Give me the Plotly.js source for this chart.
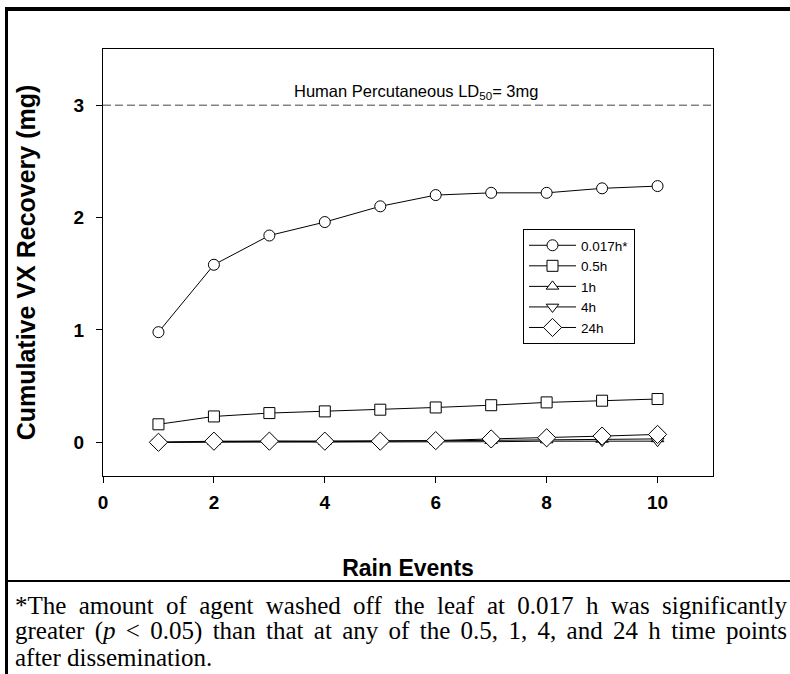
<!DOCTYPE html>
<html>
<head>
<meta charset="utf-8">
<script src="https://cdn.plot.ly/plotly-3.0.1.min.js"></script>
<style>
  html, body { margin: 0; padding: 0; background: #ffffff; }
  #chart { width: 790px; height: 674px; }
</style>
</head>
<body>
<div id="chart"></div>
<script>
// ---- data ----
const rainEvents = [1, 2, 3, 4, 5, 6, 7, 8, 9, 10];
const seriesNames = ['0.017h*', '0.5h', '1h', '4h', '24h'];
const vx_0017h = [0.98, 1.58, 1.84, 1.96, 2.10, 2.20, 2.22, 2.22, 2.26, 2.28];
const vx_05h   = [0.16, 0.23, 0.26, 0.275, 0.29, 0.31, 0.33, 0.355, 0.37, 0.385];
const vx_1h    = [0.00, 0.005, 0.01, 0.005, 0.01, 0.01, 0.015, 0.02, 0.025, 0.03];
const vx_4h    = [0.00, 0.00, 0.005, 0.005, 0.005, 0.005, 0.005, 0.01, 0.01, 0.01];
const vx_24h   = [0.00, 0.01, 0.01, 0.01, 0.01, 0.015, 0.03, 0.04, 0.055, 0.07];
const xTicks = [0, 2, 4, 6, 8, 10];
const yTicks = [0, 1, 2, 3];
const ld50 = 3;
const ld50Label = 'Human Percutaneous LD<sub>50</sub>= 3mg';
const xTitle = 'Rain Events';
const yTitle = 'Cumulative VX Recovery (mg)';
const captionLines = [
  '*The amount of agent washed off the leaf at 0.017 h was significantly',
  'greater (<i>p</i> &lt; 0.05) than that at any of the 0.5, 1, 4, and 24 h time points',
  'after dissemination.'
];

// ---- layout geometry ----
const FW = 790, FH = 674;
const M = { l: 103, r: 77, t: 49, b: 198 };
const PW = FW - M.l - M.r, PH = FH - M.t - M.b;
const px = v => (v - M.l) / PW;          // pixel x -> paper x
const py = v => (FH - M.b - v) / PH;     // pixel y -> paper y

const sans = '"Liberation Sans", Arial, sans-serif';
const serif = '"Liberation Serif", "Times New Roman", serif';

const symbols = ['circle', 'square', 'triangle-up', 'triangle-down', 'diamond'];
const sizes = [11, 11, 11, 11, 14];
const ys = [vx_0017h, vx_05h, vx_1h, vx_4h, vx_24h];

const traces = ys.map((y, i) => ({
  type: 'scatter',
  mode: 'lines+markers',
  name: seriesNames[i],
  x: rainEvents,
  y: y,
  line: { color: '#000000', width: 1 },
  marker: { symbol: symbols[i], size: sizes[i], color: '#ffffff',
            line: { color: '#000000', width: 1 } }
}));

const shapes = [
  // dashed LD50 reference line
  { type: 'line', xref: 'paper', yref: 'y', x0: 0, x1: 1, y0: ld50, y1: ld50,
    line: { color: '#444444', width: 1, dash: '8px,4px' } },
  // outer frame: thick top rule
  { type: 'line', xref: 'paper', yref: 'paper', x0: px(5), x1: px(790), y0: py(9), y1: py(9),
    line: { color: '#000000', width: 4 } },
  // outer frame: left rule
  { type: 'line', xref: 'paper', yref: 'paper', x0: px(6.5), x1: px(6.5), y0: py(7), y1: py(674),
    line: { color: '#000000', width: 3 } },
  // separator above caption
  { type: 'line', xref: 'paper', yref: 'paper', x0: px(5), x1: px(790), y0: py(581), y1: py(581),
    line: { color: '#000000', width: 2 } }
];

const annotations = [
  { xref: 'paper', yref: 'y', x: px(416), y: ld50, yshift: 1, xanchor: 'center', yanchor: 'bottom',
    text: ld50Label, showarrow: false, font: { family: sans, size: 16.5, color: '#000000' } }
];
const capY = [605, 631, 657];
captionLines.forEach((t, i) => {
  annotations.push({ xref: 'paper', yref: 'paper', x: px(13), y: py(capY[i]),
    xanchor: 'left', yanchor: 'middle', text: t, showarrow: false,
    font: { family: serif, size: 25, color: '#000000' } });
});

const layout = {
  width: FW, height: FH,
  margin: M,
  paper_bgcolor: '#ffffff', plot_bgcolor: '#ffffff',
  showlegend: true,
  legend: {
    x: px(523), y: py(229), xanchor: 'left', yanchor: 'top',
    bgcolor: '#ffffff', bordercolor: '#000000', borderwidth: 1,
    font: { family: sans, size: 13.5, color: '#000000' },
    itemwidth: 47, tracegroupgap: 0
  },
  xaxis: {
    range: [0, 11], tickvals: xTicks, ticktext: xTicks.map(String),
    ticks: 'outside', ticklen: 6, tickcolor: '#000000', tickwidth: 1,
    ticklabelstandoff: 3,
    showline: true, linecolor: '#000000', linewidth: 1, mirror: true,
    showgrid: false, zeroline: false,
    tickfont: { family: sans, size: 19, weight: 'bold', color: '#000000' },
    title: { text: xTitle, standoff: 48, font: { family: sans, size: 23, weight: 'bold', color: '#000000' } }
  },
  yaxis: {
    range: [-0.3, 3.5], tickvals: yTicks, ticktext: yTicks.map(String),
    ticks: 'outside', ticklen: 6, tickcolor: '#000000', tickwidth: 1,
    ticklabelstandoff: 8,
    showline: true, linecolor: '#000000', linewidth: 1, mirror: true,
    showgrid: false, zeroline: false,
    tickfont: { family: sans, size: 19, weight: 'bold', color: '#000000' },
    title: { text: yTitle, standoff: 30, font: { family: sans, size: 25, weight: 'bold', color: '#000000' } }
  },
  shapes: shapes,
  annotations: annotations
};

// justify the first two caption lines to the full text width, as in the reference
function justifyCaption(gd) {
  const target = 785 - 13;
  gd.querySelectorAll('g.annotation').forEach(g => {
    const idx = +g.getAttribute('data-index');
    if (idx !== 1 && idx !== 2) return;
    const t = g.querySelector('text.annotation-text');
    if (!t) return;
    const natural = t.getComputedTextLength();
    const spaces = (t.textContent.match(/ /g) || []).length;
    if (spaces > 0 && natural < target) {
      const before = t.getBoundingClientRect().left;
      t.style.wordSpacing = ((target - natural) / spaces).toFixed(2) + 'px';
      t.setAttribute('text-anchor', 'start');
      const after = t.getBoundingClientRect().left;
      const dx = before - after;
      const prev = t.getAttribute('transform') || '';
      t.setAttribute('transform', (prev + ' translate(' + dx.toFixed(2) + ',0)').trim());
    }
  });
}

Plotly.newPlot('chart', traces, layout, { displayModeBar: false, staticPlot: true })
  .then(justifyCaption);
</script>
</body>
</html>
